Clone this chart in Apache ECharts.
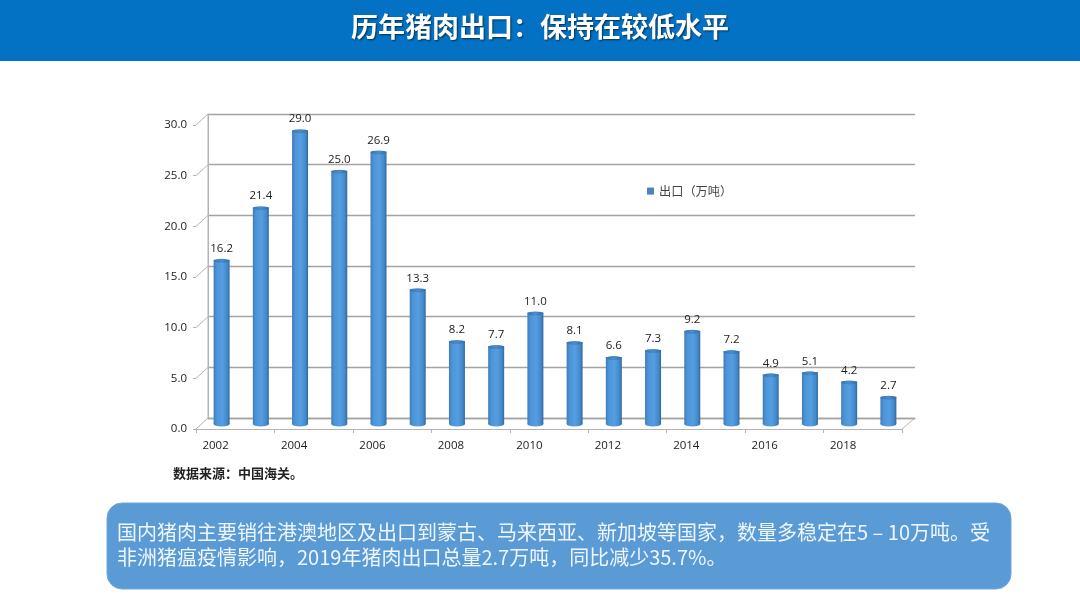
<!DOCTYPE html>
<html><head><meta charset="utf-8">
<style>html,body{margin:0;padding:0;background:#fff}#c{width:1080px;height:608px}</style>
<script src="https://cdn.jsdelivr.net/npm/echarts@6/dist/echarts.min.js"></script>
</head><body><div id="c"></div>
<script>
const years = ['2002','2003','2004','2005','2006','2007','2008','2009','2010','2011','2012','2013','2014','2015','2016','2017','2018','2019'];
const exportsWan = [16.2,21.4,29.0,25.0,26.9,13.3,8.2,7.7,11.0,8.1,6.6,7.3,9.2,7.2,4.9,5.1,4.2,2.7];
const valueTicks = [0,5,10,15,20,25,30];
const seriesName = '出口（万吨）';
const titleText = '历年猪肉出口：保持在较低水平';
const sourceText = '数据来源：中国海关。';
const noteText = '国内猪肉主要销往港澳地区及出口到蒙古、马来西亚、新加坡等国家，数量多稳定在5 – 10万吨。受\n非洲猪瘟疫情影响，2019年猪肉出口总量2.7万吨，同比减少35.7%。';

const CJK = '"Noto Sans CJK SC","Noto Sans",sans-serif';
const NUM = '"Open Sans","Noto Sans",sans-serif';
const back = {left:208, top:114, width:707, height:304};
const front = {left:196, top:125, width:706, height:304};
const mid = {left:202, top:120, width:706, height:304};
const GRID = '#a3a3a3', AXIS = '#b4b4b4';

const cyl = {type:'linear',x:0,y:0,x2:1,y2:0,colorStops:[
 {offset:0,color:'#3f7db8'},{offset:.2,color:'#4d94d8'},{offset:.55,color:'#559ee2'},{offset:.85,color:'#4488c8'},{offset:1,color:'#2f699f'}]};
const capFill = {type:'linear',x:0,y:0,x2:1,y2:0,colorStops:[
 {offset:0,color:'#3a74ab'},{offset:.5,color:'#4a8ccb'},{offset:1,color:'#346ea6'}]};

const depth = valueTicks.map(v=>{
  const f = front.top + front.height*(1 - v/30);
  const b = back.top + back.height*(1 - v/30);
  return {type:'line',z:1,silent:true,shape:{x1:front.left,y1:f,x2:back.left,y2:b},style:{stroke:AXIS,lineWidth:1}};
});

const chart = echarts.init(document.getElementById('c'),null,{renderer:'canvas'});
chart.setOption({
  animation:false,
  backgroundColor:'#ffffff',
  title:{text:titleText,left:'center',top:8,textStyle:{color:'#fff',fontSize:27,fontWeight:'bold',fontFamily:CJK,textShadowColor:'rgba(0,0,0,.6)',textShadowBlur:2,textShadowOffsetX:1,textShadowOffsetY:1}},
  legend:{data:[{name:seriesName,icon:'rect',itemStyle:{color:'#4f81bd'}}],left:642,top:180,itemWidth:7,itemHeight:7,itemGap:1,textStyle:{fontSize:12.2,color:'#444',fontFamily:CJK}},
  grid:[
    {...back,containLabel:false},
    {...front,containLabel:false},
    {...mid,containLabel:false}
  ],
  xAxis:[
    {gridIndex:0,type:'category',data:years,axisLine:{show:true,lineStyle:{color:GRID,width:1.4}},axisTick:{show:false},axisLabel:{show:false}},
    {gridIndex:1,type:'category',data:years,axisLine:{lineStyle:{color:AXIS}},axisTick:{show:true,alignWithLabel:false,length:4,lineStyle:{color:AXIS}},
      axisLabel:{interval:1,margin:11,fontSize:11.5,color:'#222',fontFamily:NUM}},
    {gridIndex:2,type:'category',data:years,show:false}
  ],
  yAxis:[
    {gridIndex:0,type:'value',min:0,max:30,interval:5,axisLabel:{show:false},axisTick:{show:false},axisLine:{show:true,lineStyle:{color:AXIS}},splitLine:{show:true,lineStyle:{color:GRID,width:1.4}}},
    {gridIndex:1,type:'value',min:0,max:30,interval:5,axisLine:{show:false},axisTick:{show:true,length:3,lineStyle:{color:AXIS}},splitLine:{show:false},
      axisLabel:{margin:9,fontSize:11.5,color:'#222',fontFamily:NUM,formatter:v=>v.toFixed(1)}},
    {gridIndex:2,type:'value',min:0,max:30,interval:5,show:false}
  ],
  series:[
    {name:seriesName,type:'bar',xAxisIndex:2,yAxisIndex:2,data:exportsWan,barWidth:16,z:3,
      itemStyle:{color:cyl},
      label:{show:true,position:'top',distance:5,fontSize:11.5,color:'#222',fontFamily:NUM,formatter:p=>p.value.toFixed(1)}},
    {name:'base',type:'pictorialBar',xAxisIndex:2,yAxisIndex:2,data:exportsWan,symbol:'circle',symbolSize:[16,5],symbolPosition:'start',symbolOffset:[0,'50%'],z:2,itemStyle:{color:cyl},tooltip:{show:false}},
    {name:'cap',type:'pictorialBar',xAxisIndex:2,yAxisIndex:2,data:exportsWan,symbol:'circle',symbolSize:[16,4],symbolPosition:'end',symbolOffset:[0,'-25%'],z:4,itemStyle:{color:capFill},tooltip:{show:false}}
  ],
  graphic:[
    {type:'rect',z:-1,silent:true,shape:{x:0,y:0,width:1080,height:61},style:{fill:'#0472c4'}},
    {type:'rect',z:-1,silent:true,shape:{x:107,y:503,width:904,height:86,r:15},style:{fill:'#5b9bd5',stroke:'#6fa8dc',lineWidth:1}},
    {type:'text',z:5,silent:true,left:117,top:520,style:{text:noteText,fill:'#eef6ff',font:'20px '+CJK,lineHeight:25}},
    {type:'text',z:5,silent:true,left:173,top:467,style:{text:sourceText,fill:'#222',font:'bold 13px '+CJK}},
    ...depth,
    {type:'line',z:1,silent:true,shape:{x1:back.left,y1:back.top,x2:back.left,y2:back.top+back.height},style:{stroke:AXIS,lineWidth:1}},
    {type:'line',z:1,silent:true,shape:{x1:front.left+front.width,y1:front.top+front.height,x2:back.left+back.width,y2:back.top+back.height},style:{stroke:AXIS,lineWidth:1}}
  ]
});
</script></body></html>
